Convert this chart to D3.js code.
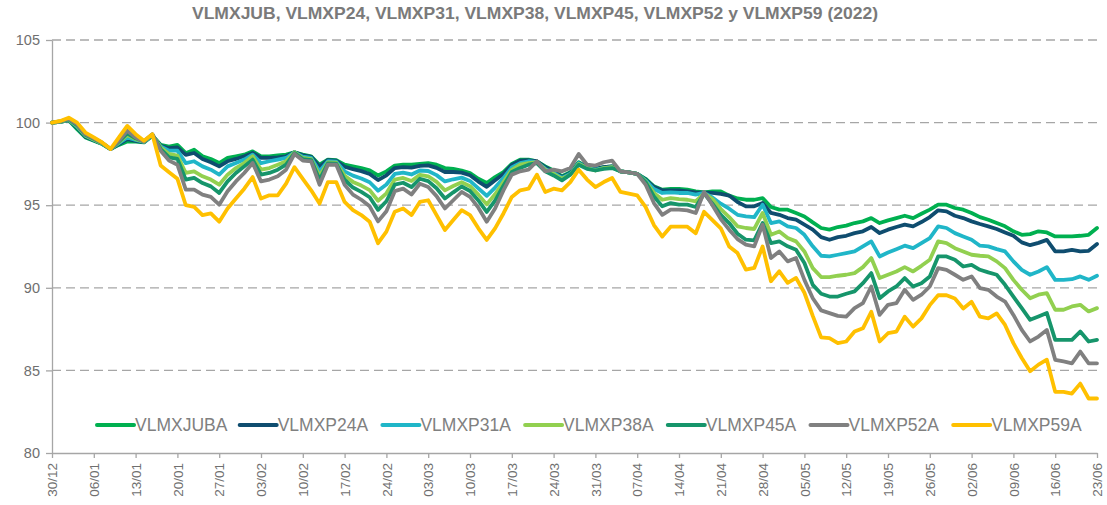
<!DOCTYPE html>
<html>
<head>
<meta charset="utf-8">
<script src="https://cdn.jsdelivr.net/npm/d3@7"></script>
<style>
  body { margin: 0; background: #fff; }
  svg { font-family: "Liberation Sans", Arial, sans-serif; }
</style>
</head>
<body>
<div id="chart"></div>
<script>
// Tick labels (one every 5 trading days)
const tickLabels = ["30/12","06/01","13/01","20/01","27/01","03/02","10/02","17/02","24/02","03/03",
  "10/03","17/03","24/03","31/03","07/04","14/04","21/04","28/04","05/05","12/05",
  "19/05","26/05","02/06","09/06","16/06","23/06"];

const seriesNames = ["VLMXJUBA","VLMXP24A","VLMXP31A","VLMXP38A","VLMXP45A","VLMXP52A","VLMXP59A"];
const seriesColors = ["#00b050","#0f4d6f","#20b6c8","#92d050","#16956b","#808080","#ffc000"];

// Daily values, base 100
const juba = [100.0,100.05,100.15,99.6,99.1,98.9,98.7,98.4,98.65,98.85,98.85,98.8,99.2,98.65,98.55,98.65,98.15,98.36,97.96,97.8,
  97.55,97.86,97.96,98.06,98.26,97.96,97.96,98.02,98.06,98.2,98.06,97.96,97.45,97.76,97.72,97.45,97.35,97.25,97.11,96.8,
  97.05,97.4,97.45,97.45,97.5,97.55,97.45,97.25,97.2,97.1,96.95,96.6,96.34,96.7,97.0,97.5,97.76,97.76,97.66,97.35,
  97.1,96.75,97.0,97.6,97.3,97.2,97.3,97.35,97.05,96.98,96.9,96.6,96.14,95.94,95.98,95.98,95.94,95.84,95.78,95.84,
  95.84,95.58,95.41,95.33,95.33,95.43,94.89,94.73,94.73,94.53,94.32,93.96,93.62,93.52,93.68,93.76,93.92,94.02,94.22,93.92,
  94.08,94.22,94.36,94.22,94.48,94.73,95.03,95.03,94.83,94.73,94.53,94.28,94.12,93.92,93.72,93.42,93.21,93.25,93.42,93.35,
  93.11,93.11,93.11,93.15,93.21,93.62];

const p24 = [100.0,100.05,100.15,99.7,99.15,98.93,98.72,98.4,98.7,99.0,98.9,98.82,99.22,98.6,98.45,98.5,98.05,98.16,97.8,97.6,
  97.35,97.66,97.8,97.96,98.16,97.86,97.86,97.9,97.96,98.2,98.02,97.93,97.33,97.73,97.69,97.33,97.18,97.06,96.89,96.52,
  96.81,97.25,97.31,97.27,97.38,97.41,97.26,97.01,97.01,96.97,96.81,96.43,96.11,96.51,96.89,97.44,97.7,97.72,97.66,97.3,
  97.05,96.7,96.95,97.55,97.3,97.2,97.3,97.35,97.05,96.98,96.9,96.55,96.1,95.9,95.9,95.9,95.84,95.78,95.76,95.74,
  95.68,95.58,95.19,94.93,94.93,95.13,94.53,94.42,94.22,94.12,93.82,93.52,93.07,92.91,93.07,93.15,93.31,93.42,93.68,93.31,
  93.52,93.68,93.82,93.72,93.98,94.28,94.69,94.63,94.36,94.22,94.02,93.86,93.72,93.56,93.35,93.15,92.75,92.58,92.72,92.9,
  92.2,92.2,92.3,92.2,92.24,92.65];

const p31 = [100.0,100.05,100.17,99.75,99.2,98.96,98.73,98.4,98.75,99.1,98.95,98.83,99.24,98.55,98.3,98.3,97.55,97.66,97.35,97.15,
  96.85,97.35,97.55,97.76,98.06,97.55,97.66,97.76,97.86,98.2,97.94,97.86,97.05,97.66,97.63,97.05,96.79,96.62,96.39,95.88,
  96.25,96.89,96.97,96.86,97.1,97.07,96.82,96.44,96.57,96.67,96.47,96.02,95.57,96.07,96.64,97.29,97.55,97.66,97.6,97.2,
  96.95,96.65,96.9,97.55,97.25,97.15,97.25,97.3,97.05,96.98,96.9,96.5,95.98,95.74,95.78,95.74,95.74,95.64,95.74,95.47,
  95.09,94.79,94.42,94.32,94.28,95.03,93.92,94.02,93.72,93.62,93.21,92.51,91.94,91.9,92.0,92.1,92.2,92.51,92.81,91.9,
  92.14,92.34,92.55,92.4,92.71,93.01,93.72,93.62,93.31,93.11,92.91,92.55,92.51,92.34,92.2,91.6,91.09,90.79,90.99,91.25,
  90.48,90.48,90.52,90.69,90.48,90.73];

const p38 = [100.0,100.05,100.18,99.8,99.22,98.98,98.74,98.4,98.8,99.25,99.0,98.84,99.26,98.5,98.1,98.0,96.95,97.05,96.75,96.55,
  96.24,96.85,97.25,97.55,97.96,97.15,97.25,97.45,97.66,98.2,97.86,97.79,96.78,97.59,97.57,96.78,96.41,96.19,95.91,95.27,
  95.72,96.55,96.65,96.46,96.84,96.75,96.41,95.9,96.16,96.39,96.15,95.64,95.05,95.66,96.4,97.14,97.45,97.55,97.6,97.15,
  96.9,96.6,96.85,97.5,97.25,97.1,97.25,97.3,97.05,96.98,96.9,96.45,95.74,95.33,95.43,95.37,95.33,95.23,95.72,95.37,
  94.77,94.28,93.72,93.62,93.56,94.53,93.21,93.41,93.01,92.81,92.2,91.19,90.65,90.65,90.73,90.79,90.89,91.25,91.8,90.59,
  90.79,90.99,91.25,90.99,91.33,91.7,92.81,92.71,92.4,92.2,92.0,91.94,91.9,91.6,91.19,90.48,89.88,89.37,89.58,89.68,
  88.67,88.67,88.87,88.97,88.57,88.77];

const p45 = [100.0,100.07,100.2,99.85,99.26,99.02,98.76,98.4,98.85,99.35,99.05,98.85,99.28,98.4,97.9,97.8,96.55,96.65,96.34,96.14,
  95.74,96.44,96.95,97.35,97.76,96.85,96.95,97.15,97.45,98.15,97.79,97.73,96.54,97.53,97.52,96.54,96.07,95.81,95.48,94.72,
  95.24,96.24,96.36,96.1,96.6,96.46,96.03,95.41,95.78,96.13,95.86,95.29,94.59,95.28,96.18,97.01,97.25,97.45,97.55,97.05,
  96.8,96.5,96.85,97.45,97.2,97.1,97.2,97.25,97.05,96.98,96.9,96.4,95.53,94.93,95.13,95.03,95.03,94.89,95.7,95.09,
  94.42,93.92,93.27,92.91,92.87,93.92,92.71,92.81,92.51,92.3,91.5,90.18,89.64,89.47,89.47,89.64,89.78,90.28,90.89,89.37,
  89.78,90.08,90.59,90.08,90.28,90.69,91.9,91.9,91.7,91.29,91.39,91.09,90.93,90.79,90.18,89.47,88.77,88.06,88.26,88.47,
  86.85,86.85,86.85,87.35,86.75,86.85];

const p52 = [100.0,100.08,100.22,99.9,99.3,99.05,98.78,98.4,98.9,99.5,99.1,98.85,99.3,98.3,97.7,97.45,95.94,95.94,95.64,95.5,
  95.03,95.84,96.44,96.95,97.55,96.44,96.55,96.75,97.15,98.1,97.7,97.65,96.24,97.45,97.45,96.24,95.64,95.33,94.93,94.02,
  94.63,95.85,96.0,95.65,96.3,96.1,95.55,94.8,95.3,95.8,95.5,94.85,94.0,94.8,95.9,96.85,97.05,97.15,97.66,97.05,
  97.15,97.05,97.25,98.1,97.45,97.4,97.6,97.7,97.05,96.98,96.9,96.25,95.13,94.42,94.73,94.73,94.69,94.53,95.8,94.99,
  94.16,93.52,92.95,92.61,92.51,93.82,91.8,92.2,91.6,91.8,90.48,89.37,88.63,88.47,88.3,88.26,88.77,89.07,90.08,88.36,
  88.97,89.07,89.88,89.27,89.58,90.08,91.19,91.09,90.79,90.48,90.69,89.98,89.88,89.47,89.17,88.36,87.45,86.75,87.05,87.45,
  85.64,85.54,85.43,86.14,85.43,85.43];

const p59 = [100.0,100.1,100.3,100.0,99.4,99.1,98.8,98.4,99.1,99.8,99.3,98.9,99.3,97.4,97.0,96.6,95.0,94.9,94.4,94.5,
  94.0,94.8,95.4,96.0,96.7,95.4,95.6,95.6,96.3,97.3,96.6,95.9,95.1,96.4,96.4,95.2,94.7,94.4,94.0,92.7,
  93.4,94.6,94.8,94.4,95.2,95.3,94.4,93.5,94.1,94.7,94.4,93.6,92.9,93.6,94.5,95.5,95.9,96.0,96.85,95.8,
  96.0,95.9,96.4,97.15,96.55,96.1,96.4,96.65,95.8,95.7,95.6,94.9,93.8,93.1,93.7,93.7,93.7,93.3,94.6,94.1,
  93.6,92.5,92.1,91.1,91.2,92.5,90.4,91.0,90.3,90.6,89.7,88.3,87.0,86.95,86.65,86.75,87.35,87.55,88.55,86.75,
  87.25,87.35,88.25,87.65,88.15,88.95,89.55,89.55,89.35,88.75,89.15,88.25,88.15,88.45,87.75,86.65,85.75,84.95,85.35,85.65,
  83.7,83.7,83.6,84.2,83.3,83.3];

const yTicks = [80, 85, 90, 95, 100, 105];

const allSeries = [juba, p24, p31, p38, p45, p52, p59];

// Chart settings
const W = 1107, H = 505;
const margin = { top: 40, right: 10, bottom: 52, left: 52 };

const svg = d3.select("#chart")
  .append("svg")
  .attr("width", W)
  .attr("height", H);

const x = d3.scaleLinear()
  .domain([0, juba.length - 1])
  .range([margin.left, W - margin.right]);

const y = d3.scaleLinear()
  .domain([80, 105])
  .range([H - margin.bottom, margin.top]);

// Title
svg.append("text")
  .attr("x", 535)
  .attr("y", 19)
  .attr("text-anchor", "middle")
  .attr("font-size", 16.5)
  .attr("font-weight", "bold")
  .attr("fill", "#7a7a7a")
  .attr("textLength", 686)
  .attr("lengthAdjust", "spacingAndGlyphs")
  .text("VLMXJUB, VLMXP24, VLMXP31, VLMXP38, VLMXP45, VLMXP52 y VLMXP59 (2022)");

// Dashed gridlines
svg.append("g")
  .selectAll("line")
  .data(yTicks.filter(d => d > 80))
  .enter()
  .append("line")
  .attr("x1", margin.left)
  .attr("x2", W - margin.right)
  .attr("y1", d => y(d))
  .attr("y2", d => y(d))
  .attr("stroke", "#a6a6a6")
  .attr("stroke-width", 1.3)
  .attr("stroke-dasharray", "9,5");

// Y axis
const yAxis = svg.append("g")
  .attr("transform", `translate(${margin.left},0)`)
  .call(d3.axisLeft(y).tickValues(yTicks).tickSize(6).tickPadding(6).tickSizeOuter(0));
yAxis.selectAll("text").attr("font-size", 14.5).attr("fill", "#6f6f6f").attr("font-family", "Liberation Sans, Arial, sans-serif");
yAxis.selectAll("line, path").attr("stroke", "#a6a6a6").attr("stroke-width", 1.3);

// X axis
const xAxis = svg.append("g")
  .attr("transform", `translate(0,${H - margin.bottom})`)
  .call(d3.axisBottom(x)
    .tickValues(tickLabels.map((d, i) => i * 5))
    .tickFormat((d, i) => tickLabels[i])
    .tickSize(5)
    .tickSizeOuter(0));
xAxis.selectAll("line, path").attr("stroke", "#a6a6a6").attr("stroke-width", 1.3);
xAxis.selectAll("text")
  .attr("font-size", 13.5)
  .attr("fill", "#6f6f6f")
  .attr("font-family", "Liberation Sans, Arial, sans-serif")
  .attr("transform", "rotate(-90)")
  .attr("text-anchor", "end")
  .attr("x", -10)
  .attr("y", 0)
  .attr("dy", "0.35em");

// Lines
const line = d3.line()
  .x((d, i) => x(i))
  .y(d => y(d));

svg.append("g")
  .selectAll("path")
  .data(allSeries)
  .enter()
  .append("path")
  .attr("d", line)
  .attr("fill", "none")
  .attr("stroke", (d, i) => seriesColors[i])
  .attr("stroke-width", 3.8)
  .attr("stroke-linejoin", "round")
  .attr("stroke-linecap", "round");

// Legend
const legend = svg.append("g")
  .selectAll("g")
  .data(seriesNames)
  .enter()
  .append("g")
  .attr("transform", (d, i) => `translate(${97 + i * 142.7},425)`);

legend.append("line")
  .attr("x1", 0)
  .attr("x2", 37)
  .attr("stroke", (d, i) => seriesColors[i])
  .attr("stroke-width", 4)
  .attr("stroke-linecap", "round");

legend.append("text")
  .attr("x", 38)
  .attr("dy", "0.36em")
  .attr("font-size", 17.5)
  .attr("fill", "#808080")
  .text(d => d);
</script>
</body>
</html>
